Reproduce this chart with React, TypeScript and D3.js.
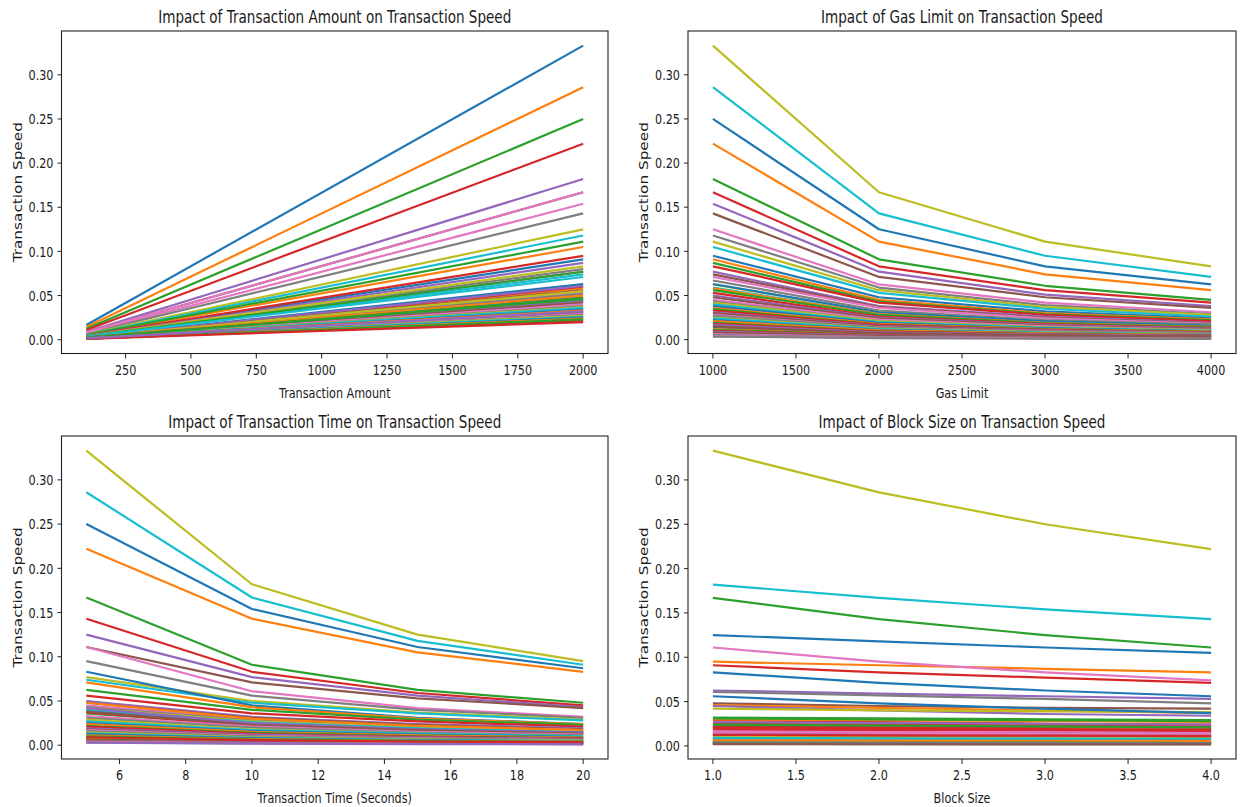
import React from 'react';
import * as d3 from 'd3';

// matplotlib default colour cycle
const tab10 = ['#1f77b4', '#ff7f0e', '#2ca02c', '#d62728', '#9467bd', '#8c564b', '#e377c2', '#7f7f7f', '#bcbd22', '#17becf'];

// --- panel 1: transaction amount (value at 100, value at 2000)
const amountX = [100, 2000];
const amountLines = [
  [0.0167, 0.333], [0.0143, 0.286], [0.0125, 0.25], [0.0111, 0.222], [0.0091, 0.182],
  [0.0083, 0.167], [0.0077, 0.154], [0.0071, 0.143], [0.0063, 0.125], [0.0059, 0.118],
  [0.0045, 0.091], [0.0053, 0.105], [0.0056, 0.111], [0.0048, 0.095], [0.0043, 0.087],
  [0.0038, 0.077], [0.0083, 0.167], [0.004, 0.08], [0.0042, 0.083], [0.0037, 0.074],
  [0.0031, 0.063], [0.0029, 0.058], [0.0038, 0.077], [0.003, 0.06], [0.003, 0.061],
  [0.0028, 0.056], [0.0027, 0.054], [0.0026, 0.052], [0.0028, 0.055], [0.0036, 0.071],
  [0.0024, 0.048], [0.0025, 0.05], [0.0024, 0.047], [0.0023, 0.045], [0.0022, 0.044],
  [0.0021, 0.042], [0.002, 0.04], [0.0019, 0.038], [0.0019, 0.037], [0.0018, 0.036],
  [0.0017, 0.034], [0.0017, 0.033], [0.0023, 0.046], [0.0011, 0.022], [0.0015, 0.031],
  [0.0015, 0.03], [0.0014, 0.029], [0.0014, 0.028], [0.0013, 0.027], [0.0013, 0.026],
  [0.0012, 0.025], [0.0012, 0.024], [0.0011, 0.023], [0.001, 0.02], [0.0016, 0.032],
];

// --- panel 2: gas limit
const gasX = [1000, 2000, 3000, 4000];
const gasLines = [
  [0.014, 0.007, 0.0047, 0.0035], [0.012, 0.006, 0.004, 0.003], [0.011, 0.0055, 0.0037, 0.0028],
  [0.01, 0.005, 0.0033, 0.0025], [0.009, 0.0045, 0.003, 0.0023], [0.008, 0.004, 0.0027, 0.002],
  [0.006, 0.003, 0.002, 0.0015], [0.005, 0.0025, 0.0017, 0.0013],
  [0.333, 0.167, 0.111, 0.083], [0.286, 0.143, 0.095, 0.071], [0.25, 0.125, 0.083, 0.0625],
  [0.222, 0.111, 0.074, 0.056], [0.182, 0.091, 0.061, 0.045], [0.167, 0.083, 0.056, 0.042],
  [0.154, 0.077, 0.051, 0.038], [0.143, 0.071, 0.048, 0.036], [0.125, 0.0625, 0.042, 0.031],
  [0.118, 0.059, 0.039, 0.029], [0.111, 0.056, 0.037, 0.028], [0.105, 0.053, 0.035, 0.026],
  [0.095, 0.048, 0.032, 0.024], [0.091, 0.045, 0.03, 0.023], [0.087, 0.043, 0.029, 0.022],
  [0.083, 0.042, 0.028, 0.021], [0.077, 0.038, 0.026, 0.019], [0.074, 0.037, 0.025, 0.0185],
  [0.071, 0.036, 0.024, 0.018], [0.067, 0.033, 0.022, 0.017], [0.0625, 0.031, 0.021, 0.016],
  [0.059, 0.029, 0.02, 0.015], [0.063, 0.031, 0.021, 0.016], [0.058, 0.029, 0.019, 0.0145],
  [0.056, 0.028, 0.0185, 0.014], [0.053, 0.026, 0.0175, 0.013], [0.05, 0.025, 0.0167, 0.0125],
  [0.048, 0.024, 0.016, 0.012], [0.045, 0.0227, 0.015, 0.011], [0.043, 0.021, 0.014, 0.0107],
  [0.042, 0.021, 0.014, 0.0104], [0.04, 0.02, 0.0133, 0.01], [0.038, 0.019, 0.0127, 0.0095],
  [0.036, 0.018, 0.012, 0.009], [0.0345, 0.017, 0.0115, 0.0086], [0.033, 0.0167, 0.011, 0.0083],
  [0.031, 0.0156, 0.0104, 0.0078], [0.03, 0.015, 0.01, 0.0075], [0.028, 0.014, 0.0093, 0.007],
  [0.027, 0.0135, 0.009, 0.0067], [0.025, 0.0125, 0.0083, 0.0063], [0.024, 0.012, 0.008, 0.006],
  [0.022, 0.011, 0.0074, 0.0056], [0.021, 0.0105, 0.007, 0.0053], [0.019, 0.0095, 0.0063, 0.0048],
  [0.018, 0.009, 0.006, 0.0045], [0.0167, 0.0083, 0.0056, 0.0042], [0.015, 0.0075, 0.005, 0.0038],
  [0.004, 0.002, 0.0013, 0.001], [0.0035, 0.0018, 0.0012, 0.0009],
];

// --- panel 3: transaction time
const timeX = [5, 10, 15, 20];
const timeLines = [
  [0.008, 0.005, 0.0036, 0.0028], [0.0071, 0.0044, 0.0032, 0.0025], [0.0063, 0.0039, 0.0028, 0.0022],
  [0.0056, 0.0035, 0.0025, 0.002], [0.005, 0.0031, 0.0022, 0.0018], [0.0045, 0.0028, 0.002, 0.0016],
  [0.004, 0.0025, 0.0018, 0.0014], [0.0033, 0.002, 0.0015, 0.0012],
  [0.333, 0.182, 0.125, 0.095], [0.286, 0.167, 0.118, 0.091], [0.25, 0.154, 0.111, 0.087],
  [0.222, 0.143, 0.105, 0.083], [0.167, 0.091, 0.0625, 0.048], [0.143, 0.083, 0.059, 0.045],
  [0.125, 0.077, 0.056, 0.043], [0.111, 0.071, 0.053, 0.042], [0.111, 0.061, 0.042, 0.032],
  [0.095, 0.056, 0.04, 0.031], [0.077, 0.05, 0.037, 0.029], [0.074, 0.048, 0.036, 0.028],
  [0.083, 0.045, 0.031, 0.024], [0.071, 0.043, 0.03, 0.024], [0.0625, 0.04, 0.029, 0.023],
  [0.056, 0.036, 0.027, 0.021], [0.05, 0.032, 0.024, 0.019], [0.048, 0.031, 0.023, 0.018],
  [0.045, 0.029, 0.021, 0.017], [0.043, 0.028, 0.021, 0.016], [0.042, 0.027, 0.02, 0.016],
  [0.04, 0.026, 0.019, 0.015], [0.038, 0.024, 0.018, 0.014], [0.048, 0.03, 0.022, 0.017],
  [0.036, 0.023, 0.017, 0.013], [0.037, 0.022, 0.016, 0.013], [0.042, 0.025, 0.018, 0.014],
  [0.038, 0.023, 0.017, 0.013], [0.033, 0.021, 0.015, 0.012], [0.031, 0.02, 0.014, 0.011],
  [0.029, 0.018, 0.013, 0.01], [0.027, 0.017, 0.013, 0.01], [0.025, 0.016, 0.012, 0.0093],
  [0.024, 0.015, 0.011, 0.0087], [0.022, 0.014, 0.01, 0.008], [0.021, 0.013, 0.0095, 0.0075],
  [0.019, 0.012, 0.009, 0.007], [0.018, 0.011, 0.0083, 0.0065], [0.017, 0.0105, 0.0077, 0.006],
  [0.016, 0.01, 0.0072, 0.0057], [0.0145, 0.009, 0.0067, 0.0052], [0.0133, 0.0083, 0.006, 0.0048],
  [0.0125, 0.0077, 0.0056, 0.0044], [0.011, 0.007, 0.005, 0.004], [0.01, 0.0063, 0.0046, 0.0036],
  [0.009, 0.0057, 0.0042, 0.0033], [0.0028, 0.0018, 0.0013, 0.001],
];

// --- panel 4: block size
const blockX = [1, 2, 3, 4];
const blockLines = [
  [0.125, 0.118, 0.111, 0.105], [0.095, 0.091, 0.087, 0.083], [0.167, 0.143, 0.125, 0.111],
  [0.091, 0.083, 0.077, 0.071], [0.0625, 0.059, 0.056, 0.053], [0.048, 0.045, 0.043, 0.042],
  [0.111, 0.095, 0.083, 0.074], [0.061, 0.057, 0.053, 0.048], [0.333, 0.286, 0.25, 0.222],
  [0.182, 0.167, 0.154, 0.143], [0.083, 0.071, 0.0625, 0.056], [0.046, 0.043, 0.04, 0.037],
  [0.032, 0.031, 0.03, 0.029], [0.029, 0.027, 0.025, 0.024], [0.045, 0.04, 0.036, 0.034],
  [0.023, 0.022, 0.021, 0.02], [0.017, 0.016, 0.016, 0.015], [0.021, 0.02, 0.02, 0.019],
  [0.042, 0.04, 0.039, 0.038], [0.016, 0.015, 0.015, 0.014], [0.056, 0.048, 0.042, 0.037],
  [0.03, 0.029, 0.028, 0.027], [0.031, 0.03, 0.029, 0.028], [0.025, 0.024, 0.023, 0.022],
  [0.027, 0.026, 0.025, 0.024], [0.022, 0.021, 0.02, 0.02], [0.018, 0.017, 0.016, 0.016],
  [0.015, 0.014, 0.014, 0.013], [0.02, 0.019, 0.019, 0.018], [0.013, 0.012, 0.012, 0.011],
  [0.012, 0.011, 0.011, 0.01], [0.008, 0.0078, 0.0075, 0.0073], [0.024, 0.023, 0.022, 0.021],
  [0.021, 0.02, 0.019, 0.018], [0.014, 0.013, 0.013, 0.012], [0.004, 0.0038, 0.0036, 0.0035],
  [0.016, 0.015, 0.014, 0.014], [0.011, 0.0105, 0.01, 0.0097], [0.01, 0.0095, 0.009, 0.0088],
  [0.009, 0.0085, 0.0082, 0.008], [0.0067, 0.0064, 0.0062, 0.006], [0.0056, 0.0054, 0.0052, 0.005],
  [0.005, 0.0048, 0.0046, 0.0044], [0.019, 0.018, 0.018, 0.017], [0.0045, 0.0043, 0.0041, 0.004],
  [0.0033, 0.0032, 0.0031, 0.003], [0.013, 0.0125, 0.012, 0.0115], [0.0029, 0.0028, 0.0027, 0.0026],
  [0.0025, 0.0024, 0.0023, 0.0023], [0.007, 0.0067, 0.0065, 0.0063], [0.0022, 0.0021, 0.0021, 0.002],
  [0.0062, 0.006, 0.0058, 0.0056], [0.0036, 0.0035, 0.0034, 0.0033], [0.0125, 0.012, 0.0115, 0.011],
  [0.0027, 0.0026, 0.0025, 0.0025], [0.002, 0.0019, 0.0018, 0.0018],
];

const yTicks = [0, 0.05, 0.1, 0.15, 0.2, 0.25, 0.3];
const yTickLabels = ['0.00', '0.05', '0.10', '0.15', '0.20', '0.25', '0.30'];
const amountTicks = [250, 500, 750, 1000, 1250, 1500, 1750, 2000];
const amountTickLabels = ['250', '500', '750', '1000', '1250', '1500', '1750', '2000'];
const gasTicks = [1000, 1500, 2000, 2500, 3000, 3500, 4000];
const gasTickLabels = ['1000', '1500', '2000', '2500', '3000', '3500', '4000'];
const timeTicks = [6, 8, 10, 12, 14, 16, 18, 20];
const timeTickLabels = ['6', '8', '10', '12', '14', '16', '18', '20'];
const blockTicks = [1, 1.5, 2, 2.5, 3, 3.5, 4];
const blockTickLabels = ['1.0', '1.5', '2.0', '2.5', '3.0', '3.5', '4.0'];

const FONT = 'DejaVu Sans, sans-serif';
const SX = 0.8; // the picture is squeezed horizontally

const pad = (ext) => {
  const d = (ext[1] - ext[0]) * 0.05;
  return [ext[0] - d, ext[1] + d];
};

function Panel({ box, xs, lines, xTicks, xTickLabels, title, xLabel }) {
  const x = d3.scaleLinear().domain(pad(d3.extent(xs))).range([box.x0, box.x1]);
  const all = lines.flat();
  const y = d3.scaleLinear().domain(pad([d3.min(all), d3.max(all)])).range([box.y1, box.y0]);
  const line = d3.line().x((d, i) => x(xs[i])).y((d) => y(d));
  const cx = (box.x0 + box.x1) / 2;
  const cy = (box.y0 + box.y1) / 2;

  return (
    <g fontFamily={FONT} fill="#1a1a1a">
      {lines.map((vals, i) => (
        <path key={i} d={line(vals)} fill="none" stroke={tab10[i % 10]} strokeWidth={2.2} strokeLinejoin="round" />
      ))}
      <rect x={box.x0} y={box.y0} width={box.x1 - box.x0} height={box.y1 - box.y0} fill="none" stroke="#222" strokeWidth={1.1} />
      {yTicks.map((t, i) => (
        <g key={'y' + i}>
          <line x1={box.x0 - 4} x2={box.x0} y1={y(t)} y2={y(t)} stroke="#222" />
          <text transform={`translate(${box.x0 - 8},${y(t)}) scale(${SX},1.03)`} textAnchor="end" dy="0.36em" fontSize={14}>
            {yTickLabels[i]}
          </text>
        </g>
      ))}
      {xTicks.map((t, i) => (
        <g key={'x' + i}>
          <line x1={x(t)} x2={x(t)} y1={box.y1} y2={box.y1 + 5} stroke="#222" />
          <text transform={`translate(${x(t)},${box.y1 + 21}) scale(${SX},1.03)`} textAnchor="middle" fontSize={14}>
            {xTickLabels[i]}
          </text>
        </g>
      ))}
      <text transform={`translate(${cx},${box.y1 + 44}) scale(${SX},1.03)`} textAnchor="middle" fontSize={14}>
        {xLabel}
      </text>
      <text transform={`translate(${box.x0 - 40},${cy}) rotate(-90) scale(1,${SX})`} textAnchor="middle" fontSize={15.3}>
        Transaction Speed
      </text>
      <text transform={`translate(${cx},${box.y0 - 8}) scale(0.77,1.05)`} textAnchor="middle" fontSize={17.6}>
        {title}
      </text>
    </g>
  );
}

export default function App() {
  const left = { x0: 61.5, x1: 608 };
  const right = { x0: 688, x1: 1236 };
  const top = { y0: 31, y1: 353.5 };
  const bottom = { y0: 436, y1: 759 };
  return (
    <svg width={1242} height={807} style={{ position: 'absolute', left: 0, top: 0, background: '#fff' }}>
      <rect width={1242} height={807} fill="#fff" />
      <Panel box={{ ...left, ...top }} xs={amountX} lines={amountLines} xTicks={amountTicks} xTickLabels={amountTickLabels}
        title="Impact of Transaction Amount on Transaction Speed" xLabel="Transaction Amount" />
      <Panel box={{ ...right, ...top }} xs={gasX} lines={gasLines} xTicks={gasTicks} xTickLabels={gasTickLabels}
        title="Impact of Gas Limit on Transaction Speed" xLabel="Gas Limit" />
      <Panel box={{ ...left, ...bottom }} xs={timeX} lines={timeLines} xTicks={timeTicks} xTickLabels={timeTickLabels}
        title="Impact of Transaction Time on Transaction Speed" xLabel="Transaction Time (Seconds)" />
      <Panel box={{ ...right, ...bottom }} xs={blockX} lines={blockLines} xTicks={blockTicks} xTickLabels={blockTickLabels}
        title="Impact of Block Size on Transaction Speed" xLabel="Block Size" />
    </svg>
  );
}
